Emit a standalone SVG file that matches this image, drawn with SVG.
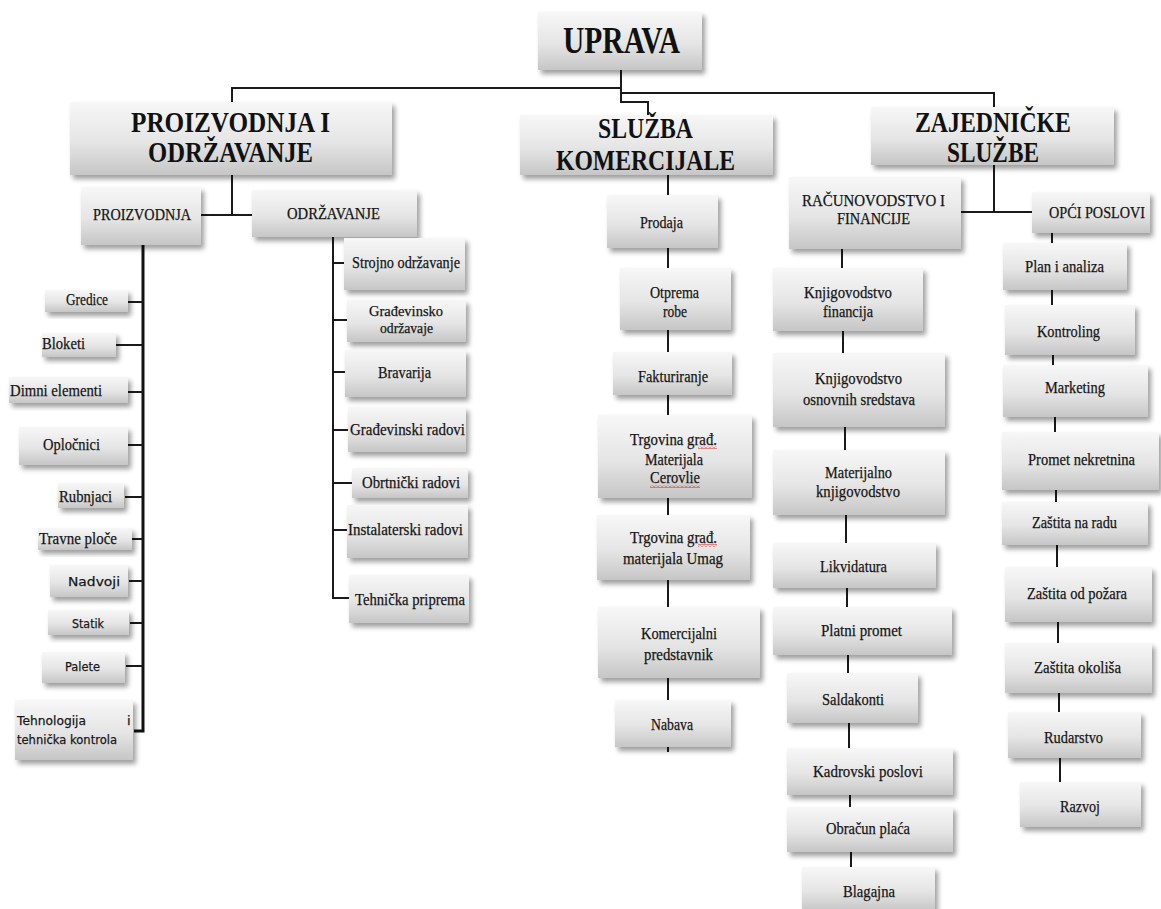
<svg xmlns="http://www.w3.org/2000/svg" width="1161" height="909" viewBox="0 0 1161 909">
<defs>
<linearGradient id="g" x1="0" y1="0" x2="0" y2="1">
<stop offset="0" stop-color="#f7f7f7"/>
<stop offset="0.55" stop-color="#e5e5e5"/>
<stop offset="1" stop-color="#c6c6c6"/>
</linearGradient>
<filter id="sh" x="-10%" y="-10%" width="130%" height="140%">
<feDropShadow dx="3" dy="4" stdDeviation="2.5" flood-color="#000" flood-opacity="0.38"/>
</filter>
<pattern id="wave" patternUnits="userSpaceOnUse" width="4" height="3">
<path d="M0 2.5 L2 0.5 L4 2.5" fill="none" stroke="#d01010" stroke-width="0.9"/>
</pattern>
<style>
.b{fill:url(#g);filter:url(#sh)}
.t{font-family:"Liberation Serif","Times New Roman",serif;font-size:16.5px;fill:#111;stroke:#222;stroke-width:0.25}
.t2{font-size:15px}
.s{font-family:"DejaVu Sans","Liberation Sans",sans-serif;font-size:13px;fill:#111;stroke:#222;stroke-width:0.25}
.h{font-family:"Liberation Serif","Times New Roman",serif;font-weight:bold;fill:#111}
.h1{font-size:38px}
.h2{font-size:29px}
.h3{font-size:16px;font-weight:normal;stroke:#222;stroke-width:0.25}
.c{fill:none;stroke:#1a1a1a;stroke-width:2}
.ck{fill:none;stroke:#111;stroke-width:3}
</style>
</defs>
<rect width="1161" height="909" fill="#fff"/>

<g id="connectors">
<path class="c" d="M621 70 V102 H648 V115"/>
<path class="c" d="M621 88 H232 V102"/>
<path class="c" d="M621 93 H994 V107"/>
<path class="c" d="M232 175 V215"/>
<path class="c" d="M201 215 H252"/>
<path class="ck" d="M143 245 V731 H134"/>
<path class="c" d="M128 302 H143 M116 345 H143 M128 392 H143 M127 445 H143 M125 497 H143 M132 539 H143 M129 581 H143 M130 623 H143 M126 666 H143"/>
<path class="c" d="M333 237 V598 H349"/>
<path class="c" d="M333 263 H344 M333 320 H347 M333 372 H345 M333 430 H348 M333 483 H352 M333 530 H347"/>
<path class="c" d="M668 175 V195 M668 248 V268 M668 330 V352 M668 395 V415 M668 498 V515 M668 580 V607 M668 678 V700 M668 747 V752"/>
<path class="c" d="M994 165 V212 M961 212 H1032"/>
<path class="c" d="M842 249 V268 M843 331 V353 M845 427 V450 M846 515 V543 M847 588 V607 M848 655 V673 M849 723 V748 M850 795 V807 M851 852 V867"/>
<path class="c" d="M1052 233 V243 M1052 290 V305 M1053 355 V365 M1055 417 V432 M1056 490 V502 M1057 545 V567 M1058 622 V643 M1059 693 V712 M1060 758 V782"/>
</g>

<g id="uprava"><rect class="b" x="538" y="12" width="164" height="58"/><text class="h h1" x="563" y="53" textLength="117" lengthAdjust="spacingAndGlyphs">UPRAVA</text></g>
<g id="proizvodnja-i-odrzavanje"><rect class="b" x="70" y="102" width="322" height="73"/><text class="h h2" x="131" y="132" textLength="199" lengthAdjust="spacingAndGlyphs">PROIZVODNJA I</text><text class="h h2" x="148" y="162" textLength="165" lengthAdjust="spacingAndGlyphs">ODRŽAVANJE</text></g>
<g id="sluzba-komercijale"><rect class="b" x="520" y="115" width="253" height="60"/><text class="h h2" x="598" y="138" textLength="95" lengthAdjust="spacingAndGlyphs">SLUŽBA</text><text class="h h2" x="556" y="170" textLength="179" lengthAdjust="spacingAndGlyphs">KOMERCIJALE</text></g>
<g id="zajednicke-sluzbe"><rect class="b" x="871" y="107" width="243" height="58"/><text class="h h2" x="915" y="132" textLength="156" lengthAdjust="spacingAndGlyphs">ZAJEDNIČKE</text><text class="h h2" x="947" y="162" textLength="92" lengthAdjust="spacingAndGlyphs">SLUŽBE</text></g>

<g id="proizvodnja"><rect class="b" x="81" y="187" width="120" height="58"/><text class="h h3" x="93" y="220" textLength="98" lengthAdjust="spacingAndGlyphs">PROIZVODNJA</text></g>
<g id="odrzavanje"><rect class="b" x="252" y="190" width="165" height="47"/><text class="h h3" x="287" y="219" textLength="93" lengthAdjust="spacingAndGlyphs">ODRŽAVANJE</text></g>
<g id="racunovodstvo"><rect class="b" x="789" y="177" width="172" height="72"/><text class="h h3" x="802" y="206" textLength="143" lengthAdjust="spacingAndGlyphs">RAČUNOVODSTVO I</text><text class="h h3" x="837" y="224" textLength="73" lengthAdjust="spacingAndGlyphs">FINANCIJE</text></g>
<g id="opci-poslovi"><rect class="b" x="1032" y="192" width="118" height="41"/><text class="h h3" x="1049" y="218" textLength="96" lengthAdjust="spacingAndGlyphs">OPĆI POSLOVI</text></g>

<g id="gredice"><rect class="b" x="45" y="290" width="83" height="22"/><text class="t" x="66" y="305" textLength="42" lengthAdjust="spacingAndGlyphs">Gredice</text></g>
<g id="bloketi"><rect class="b" x="42" y="333" width="74" height="24"/><text class="t" x="42" y="349" textLength="43" lengthAdjust="spacingAndGlyphs">Bloketi</text></g>
<g id="dimni-elementi"><rect class="b" x="9" y="377" width="119" height="26"/><text class="t" x="10" y="396" textLength="92" lengthAdjust="spacingAndGlyphs">Dimni elementi</text></g>
<g id="oplocnici"><rect class="b" x="19" y="427" width="109" height="38"/><text class="t" x="43" y="450" textLength="57" lengthAdjust="spacingAndGlyphs">Opločnici</text></g>
<g id="rubnjaci"><rect class="b" x="58" y="483" width="66" height="25"/><text class="t" x="59" y="502" textLength="53" lengthAdjust="spacingAndGlyphs">Rubnjaci</text></g>
<g id="travne-ploce"><rect class="b" x="38" y="528" width="94" height="22"/><text class="t" x="39" y="544" textLength="78" lengthAdjust="spacingAndGlyphs">Travne ploče</text></g>
<g id="nadvoji"><rect class="b" x="50" y="565" width="78" height="32"/><text class="s" x="68" y="586" textLength="52" lengthAdjust="spacingAndGlyphs">Nadvoji</text></g>
<g id="statik"><rect class="b" x="48" y="610" width="81" height="25"/><text class="s" x="72" y="628" textLength="32" lengthAdjust="spacingAndGlyphs">Statik</text></g>
<g id="palete"><rect class="b" x="42" y="652" width="83" height="31"/><text class="s" x="65" y="671" textLength="35" lengthAdjust="spacingAndGlyphs">Palete</text></g>
<g id="tehnologija"><rect class="b" x="15" y="700" width="118" height="60"/><text class="s" x="17" y="725" textLength="69" lengthAdjust="spacingAndGlyphs">Tehnologija</text><text class="s" x="127" y="725">i</text><text class="s" x="17" y="744" textLength="100" lengthAdjust="spacingAndGlyphs">tehnička kontrola</text></g>

<g id="strojno"><rect class="b" x="344" y="238" width="121" height="52"/><text class="t" x="352" y="268" textLength="108" lengthAdjust="spacingAndGlyphs">Strojno održavanje</text></g>
<g id="gradjevinsko"><rect class="b" x="347" y="300" width="119" height="42"/><text class="t t2" x="369" y="316" textLength="74" lengthAdjust="spacingAndGlyphs">Građevinsko</text><text class="t t2" x="380" y="333" textLength="53" lengthAdjust="spacingAndGlyphs">održavaje</text></g>
<g id="bravarija"><rect class="b" x="345" y="350" width="121" height="47"/><text class="t" x="378" y="378" textLength="53" lengthAdjust="spacingAndGlyphs">Bravarija</text></g>
<g id="gradjevinski-radovi"><rect class="b" x="348" y="407" width="118" height="45"/><text class="t" x="350" y="435" textLength="115" lengthAdjust="spacingAndGlyphs">Građevinski radovi</text></g>
<g id="obrtnicki-radovi"><rect class="b" x="352" y="468" width="116" height="30"/><text class="t" x="362" y="488" textLength="98" lengthAdjust="spacingAndGlyphs">Obrtnički radovi</text></g>
<g id="instalaterski-radovi"><rect class="b" x="347" y="505" width="121" height="53"/><text class="t" x="348" y="535" textLength="115" lengthAdjust="spacingAndGlyphs">Instalaterski radovi</text></g>
<g id="tehnicka-priprema"><rect class="b" x="349" y="575" width="120" height="48"/><text class="t" x="355" y="605" textLength="110" lengthAdjust="spacingAndGlyphs">Tehnička priprema</text></g>

<g id="prodaja"><rect class="b" x="607" y="195" width="111" height="53"/><text class="t" x="640" y="228" textLength="43" lengthAdjust="spacingAndGlyphs">Prodaja</text></g>
<g id="otprema-robe"><rect class="b" x="620" y="268" width="111" height="62"/><text class="t" x="650" y="298" textLength="49" lengthAdjust="spacingAndGlyphs">Otprema</text><text class="t" x="663" y="317" textLength="24" lengthAdjust="spacingAndGlyphs">robe</text></g>
<g id="fakturiranje"><rect class="b" x="613" y="352" width="119" height="43"/><text class="t" x="638" y="382" textLength="70" lengthAdjust="spacingAndGlyphs">Fakturiranje</text></g>
<g id="trgovina-cerovlje"><rect class="b" x="598" y="415" width="154" height="83"/><text class="t" x="630" y="445" textLength="87" lengthAdjust="spacingAndGlyphs">Trgovina građ.</text><text class="t" x="645" y="465" textLength="58" lengthAdjust="spacingAndGlyphs">Materijala</text><text class="t" x="650" y="483" textLength="50" lengthAdjust="spacingAndGlyphs">Cerovlie</text><rect x="698" y="446" width="19" height="3" fill="url(#wave)"/><rect x="650" y="485" width="50" height="3" fill="url(#wave)"/></g>
<g id="trgovina-umag"><rect class="b" x="597" y="515" width="153" height="65"/><text class="t" x="630" y="543" textLength="87" lengthAdjust="spacingAndGlyphs">Trgovina građ.</text><text class="t" x="623" y="564" textLength="100" lengthAdjust="spacingAndGlyphs">materijala Umag</text><rect x="698" y="544" width="19" height="3" fill="url(#wave)"/></g>
<g id="komercijalni-predstavnik"><rect class="b" x="598" y="607" width="162" height="71"/><text class="t" x="641" y="639" textLength="76" lengthAdjust="spacingAndGlyphs">Komercijalni</text><text class="t" x="644" y="660" textLength="69" lengthAdjust="spacingAndGlyphs">predstavnik</text></g>
<g id="nabava"><rect class="b" x="615" y="700" width="116" height="47"/><text class="t" x="651" y="730" textLength="42" lengthAdjust="spacingAndGlyphs">Nabava</text></g>

<g id="knjigovodstvo-financija"><rect class="b" x="773" y="268" width="150" height="63"/><text class="t" x="804" y="298" textLength="88" lengthAdjust="spacingAndGlyphs">Knjigovodstvo</text><text class="t" x="823" y="317" textLength="50" lengthAdjust="spacingAndGlyphs">financija</text></g>
<g id="knjigovodstvo-os"><rect class="b" x="773" y="353" width="172" height="74"/><text class="t" x="815" y="384" textLength="87" lengthAdjust="spacingAndGlyphs">Knjigovodstvo</text><text class="t" x="803" y="405" textLength="112" lengthAdjust="spacingAndGlyphs">osnovnih sredstava</text></g>
<g id="materijalno"><rect class="b" x="773" y="450" width="172" height="65"/><text class="t" x="825" y="478" textLength="67" lengthAdjust="spacingAndGlyphs">Materijalno</text><text class="t" x="816" y="497" textLength="84" lengthAdjust="spacingAndGlyphs">knjigovodstvo</text></g>
<g id="likvidatura"><rect class="b" x="773" y="543" width="163" height="45"/><text class="t" x="820" y="572" textLength="67" lengthAdjust="spacingAndGlyphs">Likvidatura</text></g>
<g id="platni-promet"><rect class="b" x="773" y="607" width="179" height="48"/><text class="t" x="821" y="636" textLength="81" lengthAdjust="spacingAndGlyphs">Platni promet</text></g>
<g id="saldakonti"><rect class="b" x="787" y="673" width="131" height="50"/><text class="t" x="822" y="705" textLength="62" lengthAdjust="spacingAndGlyphs">Saldakonti</text></g>
<g id="kadrovski"><rect class="b" x="787" y="748" width="166" height="47"/><text class="t" x="813" y="777" textLength="110" lengthAdjust="spacingAndGlyphs">Kadrovski poslovi</text></g>
<g id="obracun"><rect class="b" x="787" y="807" width="166" height="45"/><text class="t" x="826" y="834" textLength="84" lengthAdjust="spacingAndGlyphs">Obračun plaća</text></g>
<g id="blagajna"><rect class="b" x="802" y="867" width="133" height="44"/><text class="t" x="843" y="897" textLength="52" lengthAdjust="spacingAndGlyphs">Blagajna</text></g>

<g id="plan"><rect class="b" x="1003" y="243" width="124" height="47"/><text class="t" x="1025" y="272" textLength="79" lengthAdjust="spacingAndGlyphs">Plan i analiza</text></g>
<g id="kontroling"><rect class="b" x="1005" y="305" width="130" height="50"/><text class="t" x="1037" y="337" textLength="63" lengthAdjust="spacingAndGlyphs">Kontroling</text></g>
<g id="marketing"><rect class="b" x="1003" y="365" width="145" height="52"/><text class="t" x="1045" y="393" textLength="60" lengthAdjust="spacingAndGlyphs">Marketing</text></g>
<g id="promet-nekretnina"><rect class="b" x="1002" y="432" width="157" height="58"/><text class="t" x="1028" y="465" textLength="107" lengthAdjust="spacingAndGlyphs">Promet nekretnina</text></g>
<g id="zastita-na-radu"><rect class="b" x="1002" y="502" width="146" height="43"/><text class="t" x="1032" y="528" textLength="85" lengthAdjust="spacingAndGlyphs">Zaštita na radu</text></g>
<g id="zastita-od-pozara"><rect class="b" x="1005" y="567" width="147" height="55"/><text class="t" x="1027" y="599" textLength="100" lengthAdjust="spacingAndGlyphs">Zaštita od požara</text></g>
<g id="zastita-okolisa"><rect class="b" x="1005" y="643" width="147" height="50"/><text class="t" x="1034" y="673" textLength="87" lengthAdjust="spacingAndGlyphs">Zaštita okoliša</text></g>
<g id="rudarstvo"><rect class="b" x="1008" y="712" width="133" height="46"/><text class="t" x="1044" y="743" textLength="59" lengthAdjust="spacingAndGlyphs">Rudarstvo</text></g>
<g id="razvoj"><rect class="b" x="1020" y="782" width="121" height="45"/><text class="t" x="1060" y="812" textLength="40" lengthAdjust="spacingAndGlyphs">Razvoj</text></g>
</svg>
